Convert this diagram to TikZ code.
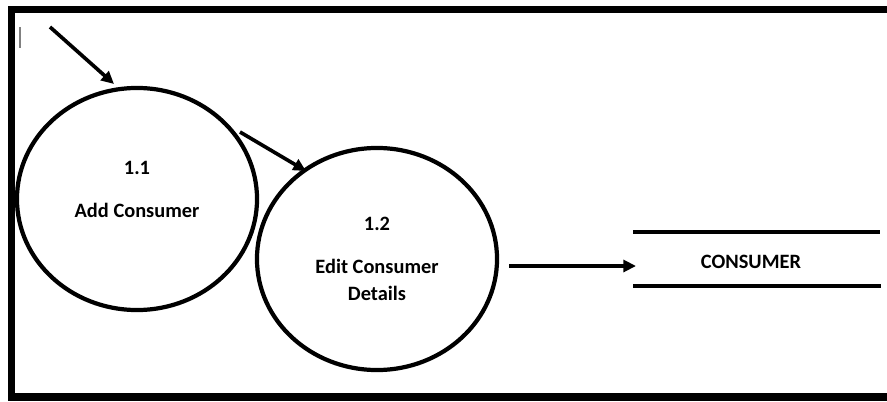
\documentclass[tikz,border=0pt]{standalone}
\usepackage{fontspec}
\setmainfont{Carlito}
\usetikzlibrary{arrows.meta,shapes.geometric,positioning}

\begin{document}
\begin{tikzpicture}[x=0.025cm, y=-0.025cm, >={Triangle[length=9pt, width=8.5pt]},
	proc/.style={draw, ellipse, line width=3pt, minimum width=6cm, minimum height=5.55cm, inner sep=0pt},
	txt/.style={font=\fontsize{14.5}{19}\selectfont\bfseries, align=center},
	flow/.style={->, line width=2.6pt},
	storeline/.style={line width=3pt}]
	\useasboundingbox (0,0) rectangle (887,401);
	% frame
	\draw[line width=5pt] (887,9.5) -- (11.5,9.5) -- (11.5,397) -- (887,397);
	\draw[gray, line width=0.8pt] (20,27) -- (20,48);

	% processes
	\node[proc] (p11) at (137,199) {};
	\node[proc] (p12) at (377,259) {};
	\node[txt] (t11) at (137,189) {1.1\\[11.6pt]Add Consumer};
	\node[txt] (t12) at (p12) {1.2\\[11.6pt]Edit Consumer\\Details};

	% data store
	\coordinate (s1) at (633,232);
	\coordinate (s2) at (880,232);
	\coordinate (s3) at (633,286);
	\coordinate (s4) at (881,286);
	\node[txt] (store) at (751,262) {CONSUMER};
	\draw[storeline] (s1) -- (s2);
	\draw[storeline] (s3) -- (s4);

	% flows
	\coordinate (in1) at (50,27);
	\coordinate (in1e) at (114,84);
	\coordinate (in2) at (240,132);
	\coordinate (in2e) at (306,171);
	\coordinate (out1) at (509,266);
	\coordinate (out1e) at (636,266);
	\path[flow]
		(in1) edge (in1e)
		(in2) edge (in2e)
		(out1) edge (out1e);
\end{tikzpicture}
\end{document}
